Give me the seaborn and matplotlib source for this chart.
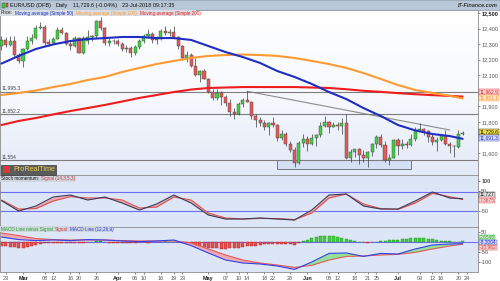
import numpy as np
import pandas as pd
import matplotlib
matplotlib.use("Agg")
import matplotlib.pyplot as plt
import seaborn as sns
from matplotlib.patches import Rectangle
from matplotlib.colors import LinearSegmentedColormap

sns.set_theme(style="white")
plt.rcParams['font.family'] = ['Liberation Sans', 'DejaVu Sans']

# ---------------- data ----------------
dates = pd.bdate_range("2018-02-22", "2018-07-23")

opens = [12285, 12329, 12295, 12317, 12230, 12194, 12268, 12318, 12337, 12406,
         12409, 12312, 12307, 12336, 12393, 12371, 12304, 12288, 12337, 12245,
         12322, 12348, 12353, 12448, 12402, 12306, 12321, 12318, 12302, 12271,
         12276, 12240, 12280, 12318, 12354, 12368, 12327, 12330, 12382, 12373,
         12376, 12346, 12288, 12210, 12233, 12160, 12104, 12128, 12078, 11993,
         11952, 11987, 11960, 11923, 11863, 11850, 11918, 11942, 11926, 11836,
         11809, 11794, 11770, 11792, 11778, 11695, 11720, 11655, 11622, 11537,
         11664, 11693, 11658, 11695, 11716, 11774, 11798, 11768, 11780, 11776,
         11792, 11565, 11609, 11624, 11589, 11570, 11606, 11656, 11700, 11651,
         11553, 11571, 11684, 11642, 11658, 11654, 11687, 11748, 11752, 11744,
         11705, 11670, 11686, 11711, 11660, 11642, 11640, 11720]
highs = [12352, 12345, 12355, 12355, 12245, 12275, 12350, 12365, 12420, 12445,
         12420, 12330, 12345, 12410, 12410, 12380, 12320, 12355, 12345, 12350,
         12388, 12360, 12458, 12476, 12410, 12340, 12335, 12335, 12315, 12295,
         12290, 12295, 12330, 12365, 12396, 12375, 12350, 12395, 12415, 12400,
         12414, 12355, 12295, 12255, 12240, 12210, 12135, 12140, 12085, 12010,
         12010, 12000, 11975, 11945, 11890, 11930, 11955, 11997, 11935, 11850,
         11830, 11810, 11800, 11830, 11785, 11750, 11735, 11675, 11640, 11675,
         11725, 11710, 11720, 11725, 11800, 11840, 11805, 11800, 11800, 11825,
         11852, 11625, 11625, 11635, 11620, 11615, 11665, 11715, 11720, 11675,
         11595, 11690, 11695, 11690, 11680, 11720, 11765, 11791, 11760, 11750,
         11720, 11700, 11720, 11745, 11670, 11650, 11745, 11740]
lows = [12260, 12280, 12285, 12220, 12180, 12155, 12260, 12300, 12330, 12395,
        12290, 12290, 12300, 12330, 12365, 12295, 12260, 12280, 12240, 12235,
        12300, 12320, 12340, 12390, 12295, 12290, 12300, 12285, 12255, 12250,
        12215, 12230, 12270, 12305, 12340, 12310, 12300, 12325, 12360, 12355,
        12335, 12270, 12195, 12185, 12155, 12095, 12055, 12075, 11985, 11940,
        11940, 11910, 11905, 11840, 11820, 11845, 11895, 11925, 11820, 11765,
        11775, 11750, 11715, 11765, 11675, 11685, 11645, 11605, 11510, 11530,
        11640, 11615, 11650, 11645, 11705, 11765, 11730, 11765, 11750, 11725,
        11560, 11540, 11575, 11530, 11540, 11508, 11580, 11635, 11640, 11540,
        11525, 11565, 11590, 11625, 11635, 11645, 11675, 11740, 11715, 11670,
        11650, 11615, 11675, 11650, 11600, 11575, 11630, 11715]
closes = [12329, 12295, 12317, 12230, 12194, 12268, 12318, 12337, 12406, 12409,
          12309, 12300, 12336, 12393, 12371, 12304, 12288, 12337, 12245, 12338,
          12348, 12353, 12448, 12402, 12306, 12321, 12318, 12302, 12271, 12276,
          12240, 12280, 12318, 12354, 12368, 12327, 12330, 12382, 12373, 12376,
          12346, 12288, 12210, 12233, 12160, 12104, 12128, 12078, 11993, 11952,
          11987, 11960, 11923, 11863, 11850, 11918, 11942, 11926, 11836, 11809,
          11794, 11770, 11792, 11778, 11695, 11720, 11655, 11622, 11537, 11664,
          11693, 11658, 11695, 11716, 11774, 11798, 11768, 11780, 11776, 11792,
          11565, 11609, 11624, 11589, 11570, 11606, 11656, 11700, 11651, 11553,
          11571, 11684, 11642, 11658, 11654, 11687, 11748, 11752, 11744, 11705,
          11670, 11686, 11711, 11660, 11642, 11643, 11720, 11730]

ind_dates = ["2018-02-22", "2018-02-28", "2018-03-06", "2018-03-12", "2018-03-16",
             "2018-03-22", "2018-03-28", "2018-04-03", "2018-04-09", "2018-04-13",
             "2018-04-19", "2018-04-25", "2018-05-01", "2018-05-07", "2018-05-11",
             "2018-05-17", "2018-05-23", "2018-05-29", "2018-06-04", "2018-06-08",
             "2018-06-14", "2018-06-20", "2018-06-26", "2018-07-02", "2018-07-06",
             "2018-07-12", "2018-07-18", "2018-07-23"]
sma50 = [12175, 12224, 12269, 12298, 12320, 12333, 12339, 12346, 12346, 12339,
         12339, 12327, 12288, 12249, 12217, 12179, 12127, 12089, 12044, 11992,
         11947, 11889, 11838, 11780, 11745, 11722, 11709, 11691]
sma100 = [11973, 11986, 12002, 12024, 12044, 12069, 12089, 12121, 12147, 12172,
          12192, 12211, 12224, 12230, 12233, 12230, 12224, 12211, 12192, 12172,
          12147, 12114, 12076, 12037, 12005, 11986, 11968, 11951]
sma200 = [11780, 11806, 11825, 11848, 11870, 11889, 11909, 11931, 11954, 11973,
          11992, 12008, 12018, 12021, 12024, 12024, 12024, 12024, 12021, 12018,
          12010, 12000, 11993, 11985, 11978, 11972, 11967, 11963]

stoch_mom = [2, -50, -25, 20, 30, 5, 20, -10, -45, -15, 30, -10, -70, -90,
             -90, -85, -90, -95, -45, 30, 35, -25, -40, -40, 0, 45, 15, 11.7]
stoch_sig = [5, -40, -38, 0, 22, 15, 15, 5, -35, -30, 20, 5, -60, -85,
             -90, -87, -88, -93, -60, 15, 35, -15, -38, -42, -10, 38, 22, 7.4]

macd_line = [25, 12, 7, 10, 7, 12, 10, 5, 2, 5, 10, -18, -55, -90, -105, -110,
             -120, -137, -100, -57, -55, -72, -57, -60, -35, -15, -10, -8.3]
macd_signal = [45, 32, 17, 12, 10, 10, 10, 7, 5, 5, 5, -5, -35, -65, -90, -105,
               -115, -127, -117, -90, -72, -70, -65, -62, -52, -35, -20, -11.0]
macd_hist = [-20, -22, -24, -26, -28, -28, -25, -20, -15, -10,
             -6, -5, -4, -4, -3, -5, -6, -5, -4, -3, -2, 2, 4, 3, -2, -4, -5, -5, -6, -5,
             -4, -3, -2, -2, -3, -2, -1, 2, 3, 2,
             1, -2, -5, -8, -12, -18, -22, -25,
             -28, -30, -32, -33, -33, -32, -30, -28, -25, -22, -20, -18, -15,
             -12, -10, -10, -9, -8, -10, -12, -14,
             -5, 3, 10, 18, 24, 28, 30, 30, 28, 26, 22,
             15, 8, 3, 0, -2, -3, -1,
             2, 4, 6, 8, 10, 12, 14, 16, 18, 20, 20, 18, 16, 13,
             10, 7, 5, 3, 2, 2, 2.65]

levels = [11995.3, 11852.2, 11554]
level_labels = ["11,995.3", "11,852.2", "11,554"]
trend_dates = ["2018-05-14", "2018-07-18"]
trend_vals = [11997, 11748]
box_dates = ["2018-05-23", "2018-07-05"]
box_vals = [11497, 11555]

price_ticks = [11600, 11800, 11900, 12100, 12200, 12300, 12400, 12500]
stoch_ticks = [100, 50, -50]
macd_ticks = [50, -50, -100]
tick_dates = ["2018-02-23", "2018-03-01", "2018-03-08", "2018-03-12", "2018-03-16",
              "2018-03-20", "2018-03-26", "2018-04-02", "2018-04-06", "2018-04-10",
              "2018-04-16", "2018-04-19", "2018-04-23", "2018-05-01", "2018-05-07",
              "2018-05-10", "2018-05-14", "2018-05-18", "2018-05-22", "2018-05-28",
              "2018-06-01", "2018-06-08", "2018-06-12", "2018-06-18", "2018-06-21",
              "2018-06-25", "2018-07-02", "2018-07-09", "2018-07-12", "2018-07-16",
              "2018-07-20", "2018-07-24"]
tick_labels = ["23", "Mar", "08", "12", "16", "20", "26", "Apr", "06", "10", "16",
               "19", "23", "May", "07", "10", "14", "18", "22", "28", "Jun", "08",
               "12", "18", "21", "25", "Jul", "09", "12", "16", "20", "24"]

title_parts = ["EUR/USD (DFB)", "Daily", "11,729.6 (-0.04%)", "23-Jul-2018 09:17:35"]
legend_parts = [("Price:", "#111111"), ("Moving average (Simple 50)", "#1f2ec2"),
                ("Moving average (Simple 100)", "#ff9a33"),
                ("Moving average (Simple 200)", "#ee1c1c")]
stoch_parts = [("Stoch momentum:", "#111111"), ("Signal (14,3,5,3)", "#d23c3c")]
macd_parts = [("MACD Line minus Signal", "#1fa31f"), ("Signal", "#d23c3c"),
              ("MACD Line (12,26,9)", "#2a36d8")]

# ---------------- helpers ----------------
W, H = 500, 281
def fx(px): return px / W
def fy(py): return 1 - py / H

pos = np.arange(len(dates))
def to_pos(ds):
    out = []
    for d in pd.to_datetime(ds):
        if d in dates:
            out.append(dates.get_loc(d))
        else:
            out.append(len(dates) - 1 + np.busday_count(dates[-1].date(), d.date()))
    return np.array(out, dtype=float)

ind_pos = to_pos(ind_dates)
XL = (-0.34, 110.57)

fig = plt.figure(figsize=(5, 2.81), dpi=100)
fig.patch.set_facecolor("white")
renderer = fig.canvas.get_renderer()
ax_main = fig.add_axes([0, fy(175), fx(478), (175 - 10) / H])
ax_sto = fig.add_axes([0, fy(227), fx(478), (227 - 175) / H])
ax_macd = fig.add_axes([0, fy(272), fx(478), (272 - 227) / H])

for ax in (ax_main, ax_sto, ax_macd):
    for s in ax.spines.values():
        s.set_color("#8a8a8a")
        s.set_linewidth(0.6)
    ax.set_xlim(*XL)
    ax.tick_params(axis="x", bottom=False, labelbottom=False)
    ax.yaxis.tick_right()
    ax.tick_params(axis="y", right=True, length=1.5, width=0.5, pad=0.8,
                   labelsize=3.95, colors="#555555")

# ---- main panel ----
YL = (11458.5, 12519.5)
grad = np.linspace(0, 1, 200).reshape(-1, 1)
cmap = LinearSegmentedColormap.from_list("bg", ["#e3eaf7", "#f7f9fd", "#ffffff"])
ax_main.imshow(grad, extent=[XL[0], XL[1], YL[0], YL[1]], cmap=cmap,
               aspect="auto", origin="lower", zorder=0)

tpos = to_pos(trend_dates)
ax_main.plot(tpos, trend_vals, color="#8c8c8c", lw=0.8, zorder=2)
bpos = to_pos(box_dates)
ax_main.add_patch(Rectangle((bpos[0], box_vals[0]), bpos[1] - bpos[0],
                            box_vals[1] - box_vals[0], facecolor="#d5e0f5",
                            edgecolor="#666666", lw=0.6, zorder=1.5))
for lv, lab in zip(levels, level_labels):
    ax_main.axhline(lv, color="#7d7d7d", lw=0.8, zorder=2)
    ax_main.text(0.004, lv + 6, lab, transform=ax_main.get_yaxis_transform(),
                 fontsize=3.6, color="#444444", va="bottom", ha="left", zorder=6)

o = np.array(opens, float); c = np.array(closes, float)
hi = np.array(highs, float); lo = np.array(lows, float)
up = c >= o
ax_main.vlines(pos, lo, hi, color="#3a3a3a", lw=0.5, zorder=3)
body_h = np.maximum(np.abs(c - o), 2.5)
ax_main.bar(pos, body_h, bottom=np.minimum(o, c), width=0.72,
            color=np.where(up, "#3fd13f", "#e45a5a"), edgecolor="#404040",
            linewidth=0.3, zorder=4)

ma_df = pd.DataFrame({"pos": ind_pos, "sma50": sma50, "sma100": sma100, "sma200": sma200})
sns.lineplot(data=ma_df, x="pos", y="sma200", ax=ax_main, color="#ee1c1c", lw=1.5, zorder=5)
sns.lineplot(data=ma_df, x="pos", y="sma100", ax=ax_main, color="#ff9a33", lw=1.5, zorder=5)
sns.lineplot(data=ma_df, x="pos", y="sma50", ax=ax_main, color="#1f2ec2", lw=1.5, zorder=6)
ax_main.set_ylim(*YL)
ax_main.set_xlim(*XL)
ax_main.set_xlabel(""); ax_main.set_ylabel("")
ax_main.set_yticks(price_ticks)
ax_main.set_yticklabels([f"{v:,}" for v in price_ticks])
for t in ax_main.get_yticklabels():
    if t.get_text() == "12,500":
        t.set_fontweight("bold"); t.set_color("#222222")

# ---- stoch panel ----
ax_sto.set_facecolor("#dde6f6")
sdf = pd.DataFrame({"pos": ind_pos, "k": stoch_mom, "d": stoch_sig})
ax_sto.fill_between(ind_pos, stoch_mom, stoch_sig, color="#eea3a8", alpha=0.9, lw=0, zorder=2)
for lv in (45, -50):
    ax_sto.axhline(lv, color="#6d6df2", lw=0.8, zorder=1)
sns.lineplot(data=sdf, x="pos", y="d", ax=ax_sto, color="#d9534f", lw=0.8, zorder=3)
sns.lineplot(data=sdf, x="pos", y="k", ax=ax_sto, color="#3a3a5a", lw=0.8, zorder=4)
ax_sto.set_ylim(-130, 130)
ax_sto.set_xlim(*XL)
ax_sto.set_xlabel(""); ax_sto.set_ylabel("")
ax_sto.set_yticks(stoch_ticks)
ax_sto.set_yticklabels([str(v) for v in stoch_ticks])
ax_sto.get_yticklabels()[0].set_fontweight("bold")

# ---- MACD panel ----
ax_macd.set_facecolor("#dde6f6")
hist = np.array(macd_hist, float)
ax_macd.axhline(0, color="#6d6df2", lw=0.8, zorder=1)
ax_macd.bar(pos, hist, width=0.7, color=np.where(hist >= 0, "#3fd13f", "#e84d4d"),
            edgecolor=np.where(hist >= 0, "#228b22", "#b02020"), linewidth=0.3, zorder=2)
ml = np.array(macd_line, float); ms = np.array(macd_signal, float)
ax_macd.fill_between(ind_pos, ml, ms, where=ml >= ms, interpolate=True,
                     color="#8fe08f", alpha=0.9, lw=0, zorder=3)
ax_macd.fill_between(ind_pos, ml, ms, where=ml < ms, interpolate=True,
                     color="#eea3a8", alpha=0.9, lw=0, zorder=3)
mdf = pd.DataFrame({"pos": ind_pos, "m": macd_line, "s": macd_signal})
sns.lineplot(data=mdf, x="pos", y="s", ax=ax_macd, color="#e05a5a", lw=0.8, zorder=4)
sns.lineplot(data=mdf, x="pos", y="m", ax=ax_macd, color="#3340e8", lw=0.8, zorder=5)
ax_macd.set_ylim(-150, 75)
ax_macd.set_xlim(*XL)
ax_macd.set_xlabel(""); ax_macd.set_ylabel("")
ax_macd.set_yticks(macd_ticks)
ax_macd.set_yticklabels([str(v) for v in macd_ticks])

ax_macd.set_xticks(to_pos(tick_dates))
ax_macd.set_xticklabels(tick_labels)
ax_macd.tick_params(axis="x", bottom=True, labelbottom=True, length=1.5, width=0.5,
                    pad=1.5, labelsize=4.0, colors="#555555")
for t in ax_macd.get_xticklabels():
    if t.get_text() in ("Mar", "Apr", "May", "Jun", "Jul"):
        t.set_fontweight("bold"); t.set_color("#222222")

# ---------------- decorations ----------------
def chain(x0, y0, parts, size, gap=2.5, z=6):
    x = x0
    for txt, col in parts:
        t = fig.text(fx(x), fy(y0), txt, fontsize=size, color=col, va="center",
                     ha="left", zorder=z)
        bb = t.get_window_extent(renderer)
        x = x + bb.width + gap
    return x

fig.add_artist(Rectangle((0, fy(10)), 1, 10 / H, transform=fig.transFigure,
                         facecolor="#b7c7d7", edgecolor="#8899aa", lw=0.5, zorder=1))
fig.add_artist(Rectangle((fx(2), fy(8)), fx(2.5), 5 / H, transform=fig.transFigure,
                         facecolor="#3fd13f", edgecolor="#333333", lw=0.3, zorder=2))
fig.add_artist(Rectangle((fx(5.5), fy(7)), fx(2.5), 4 / H, transform=fig.transFigure,
                         facecolor="#e45a5a", edgecolor="#333333", lw=0.3, zorder=2))
chain(10, 5.2, [(p, "#111111") for p in title_parts], 4.0, gap=5, z=3)
fig.text(fx(498), fy(5.2), "IT-Finance.com", fontsize=4.0, color="#333333",
         va="center", ha="right", style="italic", fontweight="bold", zorder=3)

fig.add_artist(Rectangle((0, fy(16)), fx(196), 6 / H, transform=fig.transFigure,
                         facecolor="#d9dde4", edgecolor="none", zorder=5))
chain(1, 13, legend_parts, 3.35, gap=2.5)

# ProRealTime badge
fig.add_artist(Rectangle((fx(1), fy(174.5)), fx(55), 10 / H, transform=fig.transFigure,
                         facecolor="#5b5b5b", edgecolor="#3a3a3a", lw=0.5, zorder=5))
fig.add_artist(Rectangle((fx(2.5), fy(173)), fx(7), 7 / H, transform=fig.transFigure,
                         facecolor="#d83a3a", edgecolor="none", zorder=6))
fig.text(fx(13), fy(169.5), "ProRealTime", fontsize=5.2, color="#f0d050",
         va="center", ha="left", zorder=7)

# Stoch label
fig.add_artist(Rectangle((0, fy(181.5)), fx(76), 6 / H, transform=fig.transFigure,
                         facecolor="#cfd6e0", edgecolor="none", zorder=5))
chain(1, 178.5, stoch_parts, 3.35, gap=2)

# MACD label
fig.add_artist(Rectangle((0, fy(232)), fx(113), 6 / H, transform=fig.transFigure,
                         facecolor="#cfd6e0", edgecolor="none", zorder=5))
chain(1, 229, macd_parts, 3.35, gap=2)

# value boxes on right axis
boxes = [(92, "11,962.9", "#e02020", "#fbd5d5"),
         (98, "11,951.1", "#ff8c1a", "#fde6cc"),
         (132, "11,729.6", "#111111", "#f4e04a"),
         (138, "11,691.3", "#2030c8", "#d6dcf8"),
         (195, "11.727", "#222222", "#dcdcdc"),
         (200, "7.3675", "#d23c3c", "#fbd5d5"),
         (237.5, "2.6546", "#1f9a1f", "#d4f3d4"),
         (242.5, "-8.3004", "#2a36d8", "#d6dcf8"),
         (247.5, "-10.962", "#d23c3c", "#fbd5d5")]
for yy, txt, col, bg in boxes:
    fig.text(fx(479.5), fy(yy), txt, fontsize=3.55, color=col, va="center", ha="left",
             zorder=8, bbox=dict(boxstyle="square,pad=0.1", fc=bg, ec=col, lw=0.3))

fig.savefig("out.png", dpi=100)
